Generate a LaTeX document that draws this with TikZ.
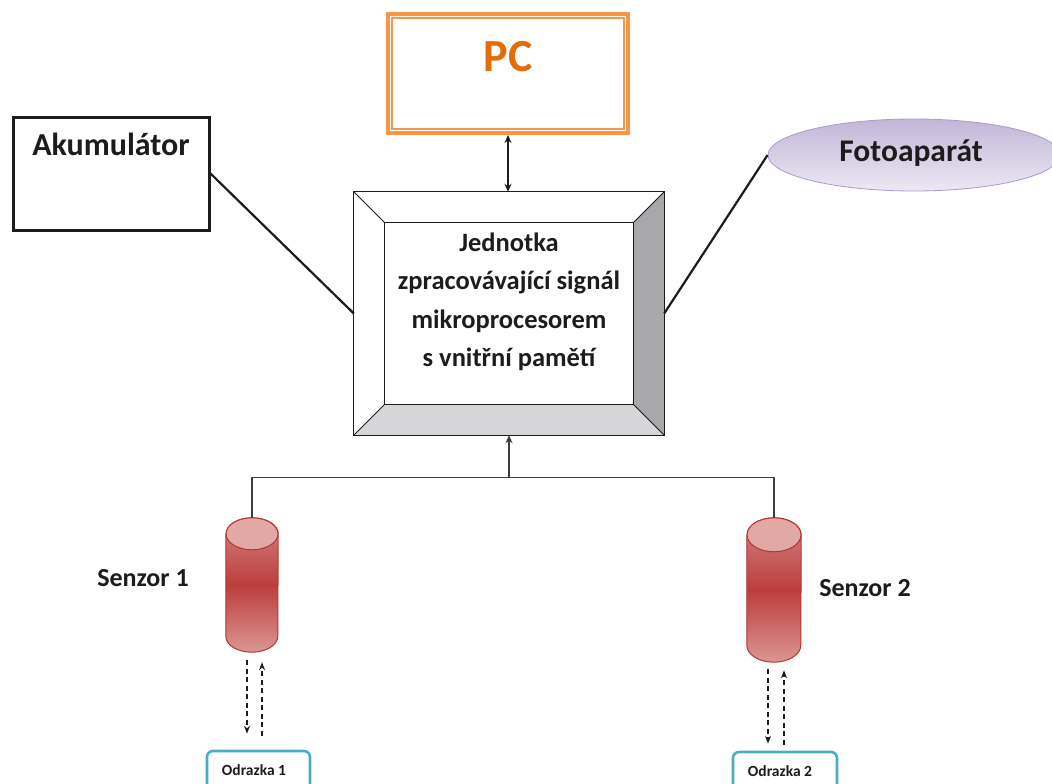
\documentclass[tikz,border=0pt]{standalone}
\usepackage{fontspec}
\setmainfont{Carlito}
\usetikzlibrary{arrows.meta,calc,shapes.geometric}
\definecolor{pcorange}{RGB}{247,150,70}
\definecolor{pctextc}{RGB}{228,108,10}
\definecolor{txt}{RGB}{28,28,28}
\definecolor{fotodark}{RGB}{194,182,216}
\definecolor{fotolight}{RGB}{236,232,243}
\definecolor{fotoedge}{RGB}{170,155,200}
\definecolor{bevelright}{RGB}{168,168,170}
\definecolor{bevelbottom}{RGB}{214,214,216}
\definecolor{senzhi}{RGB}{212,132,132}
\definecolor{senzmid}{RGB}{188,62,60}
\definecolor{senzlo}{RGB}{220,150,148}
\definecolor{senztop}{RGB}{226,168,166}
\definecolor{senzedge}{RGB}{178,52,52}
\definecolor{odrazteal}{RGB}{75,172,198}

\pgfdeclareverticalshading{senzsh}{100bp}{color(0bp)=(senzlo); color(25bp)=(senzlo);
  color(50bp)=(senzmid); color(75bp)=(senzhi); color(100bp)=(senzhi)}

% valec = cylinder drawn into a phantom node
\newcommand{\valec}[3]{%
  \shade[shading=senzsh, draw=senzedge, line width=1pt]
    ([yshift=-#3pt]#1.north west) -- ([yshift=#3pt]#1.south west)
    arc[start angle=180, end angle=360, x radius=#2, y radius=#3]
    -- ([yshift=-#3pt]#1.north east)
    arc[start angle=0, end angle=180, x radius=#2, y radius=#3] -- cycle;
  \filldraw[fill=senztop, draw=senzedge, line width=1pt]
    ([yshift=-#3pt]#1.north) ellipse[x radius=#2, y radius=#3];
}

\tikzset{
  txtbold/.style={text=txt, font=\bfseries},
  pcbox/.style={draw=pcorange, line width=4pt, minimum width=240pt, minimum height=119pt, inner sep=0pt},
  akubox/.style={draw=txt, line width=3pt, minimum width=196pt, minimum height=113pt, inner sep=0pt},
  fotoel/.style={ellipse, draw=fotoedge, line width=0.8pt, top color=fotodark, bottom color=fotolight,
    minimum width=292pt, minimum height=72pt, inner sep=0pt},
  jedbox/.style={minimum width=310pt, minimum height=243pt, inner sep=0pt},
  senzor/.style={inner sep=0pt},
  odrazbox/.style={draw=odrazteal, line width=2.6pt, rounded corners=6pt, minimum width=103pt,
    minimum height=40pt, inner sep=0pt},
  conn/.style={draw=txt, line width=2.2pt},
  sbus/.style={draw=txt!85, line width=1.3pt},
  odraz/.style={draw=txt, line width=1.2pt, dash pattern=on 5pt off 3.5pt, -{Stealth[length=8pt,width=6pt]}},
}

\begin{document}
\begin{tikzpicture}[x=1pt, y=1pt]
    \useasboundingbox (0,0) rectangle (1052,-784);

    % PC
    \node[pcbox] (pc) at (508,-73.5) {};
    \draw[pcorange, line width=1.2pt] ([xshift=6pt,yshift=-6pt]pc.north west) rectangle ([xshift=-6pt,yshift=6pt]pc.south east);
    \node[text=pctextc, font=\bfseries\fontsize{46}{50}\selectfont] (pctext) at (508,-57) {PC};

    % Akumulator
    \node[akubox] (aku) at (111,-173.5) {};
    \node[txtbold, font=\bfseries\fontsize{32}{36}\selectfont] (akutext) at ([yshift=-29pt]aku.north) {Akumulátor};

    % Fotoaparat
    \node[fotoel] (foto) at (914,-155) {};
    \node[txtbold, font=\bfseries\fontsize{31.5}{36}\selectfont] (fototext) at (911,-153) {Fotoaparát};

    % Jednotka (bevel box)
    \node[jedbox] (jed) at (509,-313.5) {};
    \fill[bevelright] (jed.north east) -- (jed.south east) -- ([xshift=-31pt,yshift=31pt]jed.south east)
        -- ([xshift=-31pt,yshift=-31pt]jed.north east) -- cycle;
    \fill[bevelbottom] (jed.south west) -- (jed.south east) -- ([xshift=-31pt,yshift=31pt]jed.south east)
        -- ([xshift=31pt,yshift=31pt]jed.south west) -- cycle;
    \draw[txt, line width=1pt] (jed.north west) rectangle (jed.south east);
    \draw[txt, line width=1pt] ([xshift=31pt,yshift=-31pt]jed.north west) rectangle ([xshift=-31pt,yshift=31pt]jed.south east);
    \draw[txt, line width=1pt] (jed.north west) -- ([xshift=31pt,yshift=-31pt]jed.north west)
        (jed.north east) -- ([xshift=-31pt,yshift=-31pt]jed.north east)
        (jed.south west) -- ([xshift=31pt,yshift=31pt]jed.south west)
        (jed.south east) -- ([xshift=-31pt,yshift=31pt]jed.south east);
    \node[txtbold, align=center, font=\bfseries\fontsize{26.5}{38.5}\selectfont] (jedtext) at (509,-302)
        {Jednotka\\zpracovávající signál\\mikroprocesorem\\s vnitřní pamětí};

    % Senzory
    \node[senzor, minimum width=52pt, minimum height=134pt] (s1) at (252,-585) {};
    \node[senzor, minimum width=54pt, minimum height=144pt] (s2) at (774,-590) {};
    \valec{s1}{26}{16}
    \valec{s2}{27}{17}
    \node[txtbold, font=\bfseries\fontsize{26}{30}\selectfont] (l1) at (143,-578) {Senzor 1};
    \node[txtbold, font=\bfseries\fontsize{26}{30}\selectfont] (l2) at (865,-588) {Senzor 2};

    % Odrazky
    \node[odrazbox] (o1) at (258.5,-771) {};
    \node[txtbold, font=\bfseries\fontsize{15.5}{18}\selectfont] (o1text) at (254,-770) {Odrazka 1};
    \node[odrazbox, minimum width=104pt] (o2) at (785,-772) {};
    \node[txtbold, font=\bfseries\fontsize{15.5}{18}\selectfont] (o2text) at (780,-771) {Odrazka 2};

    % spoje
    \draw[conn] (aku.east) -- (jed.west);
    \draw[conn] (foto.west) -- (jed.east);
    \draw[conn, {Stealth[length=8pt,width=7pt]}-{Stealth[length=8pt,width=7pt]}] (pc.south) -- (pc.south |- jed.north);
    \coordinate (uzel) at ([yshift=40pt]s1.north);
    \draw[sbus] (s1.north) -- (uzel) -| (s2.north);
    \draw[sbus, line width=1.5pt, -{Stealth[length=8pt,width=7pt]}] (uzel -| jed.south) -- (jed.south);

    \draw[odraz] ([xshift=-5pt,yshift=-8pt]s1.south) -- ([xshift=-11.5pt,yshift=16pt]o1.north);
    \draw[odraz] ([xshift=3.5pt,yshift=14pt]o1.north) -- ([xshift=10pt,yshift=-10pt]s1.south);
    \draw[odraz] ([xshift=-6pt,yshift=-7pt]s2.south) -- ([xshift=-17pt,yshift=7pt]o2.north);
    \draw[odraz] ([xshift=-1pt,yshift=6pt]o2.north) -- ([xshift=10pt,yshift=-8pt]s2.south);
\end{tikzpicture}
\end{document}
